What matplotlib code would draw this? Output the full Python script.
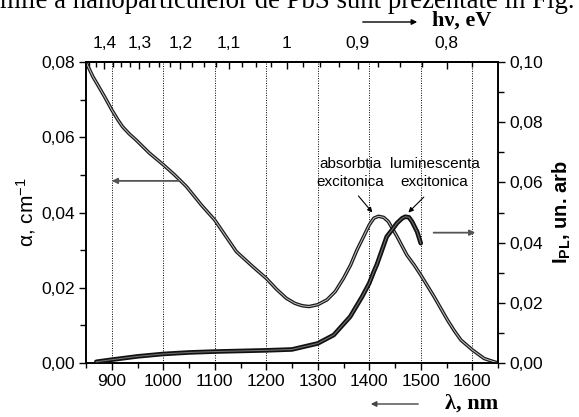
import matplotlib

matplotlib.use("Agg")
import matplotlib.pyplot as plt
import numpy as np
from matplotlib.patches import FancyArrowPatch
from matplotlib.ticker import FixedLocator, FuncFormatter, MultipleLocator

plt.rcParams["font.family"] = ["Liberation Sans", "DejaVu Sans"]
plt.rcParams["mathtext.fontset"] = "custom"
plt.rcParams["mathtext.rm"] = "Liberation Sans"
plt.rcParams["mathtext.it"] = "Liberation Sans:italic"
plt.rcParams["mathtext.bf"] = "Liberation Sans:bold"

# absorption (left axis)
abs_wl = [850, 863, 886, 900, 912, 921, 934, 947, 973, 1000, 1022, 1045, 1074,
          1100, 1122, 1142, 1174, 1200, 1220, 1239, 1255, 1263, 1271, 1283,
          1300, 1318, 1334, 1350, 1364, 1376, 1389, 1400, 1409, 1418, 1428,
          1437, 1454, 1473, 1487, 1500, 1513, 1526, 1539, 1552, 1565, 1578,
          1600, 1623, 1636, 1648]
abs_val = [0.0800, 0.0762, 0.0708, 0.0673, 0.0646, 0.0628, 0.0609, 0.0593,
           0.0558, 0.0527, 0.0500, 0.0469, 0.0420, 0.0380, 0.0336, 0.0296,
           0.0256, 0.0225, 0.0196, 0.0172, 0.0159, 0.0155, 0.0152, 0.0150,
           0.0155, 0.0168, 0.0190, 0.0225, 0.0261, 0.0300, 0.0336, 0.0367,
           0.0385, 0.0390, 0.0387, 0.0376, 0.0336, 0.0287, 0.0261, 0.0234,
           0.0205, 0.0176, 0.0145, 0.0114, 0.0086, 0.0061, 0.0035, 0.0012,
           0.0006, 0.0001]

# photoluminescence (right axis)
pl_wl = [870, 900, 950, 1000, 1050, 1100, 1150, 1200, 1250, 1300, 1331, 1363,
         1386, 1400, 1409, 1415, 1434, 1445, 1454, 1464, 1470, 1477, 1483,
         1493, 1500]
pl_val = [0.0004, 0.0011, 0.0022, 0.0030, 0.0035, 0.0038, 0.0040, 0.0042,
          0.0045, 0.0065, 0.0093, 0.0154, 0.0220, 0.0265, 0.0304, 0.0328,
          0.0420, 0.0444, 0.0465, 0.0481, 0.0486, 0.0484, 0.0470, 0.0436,
          0.0398]

ev_major = [1.4, 1.3, 1.2, 1.1, 1.0, 0.9, 0.8]
ev_labels = ["1,4", "1,3", "1,2", "1,1", "1", "0,9", "0,8"]
grid_wl = [900, 1000, 1100, 1200, 1300, 1400, 1500, 1600]

comma = FuncFormatter(lambda v, p: f"{v:.2f}".replace(".", ","))


def to_ev(x):
    x = np.asarray(x, dtype=float)
    with np.errstate(divide="ignore"):
        return 1240.0 / x


fig = plt.figure(figsize=(5.79, 4.17), dpi=100)
ax = fig.add_axes([86 / 579, 1 - 363 / 417, 412 / 579, 301 / 417])
ax2 = ax.twinx()

for x in grid_wl:
    ax.axvline(x, color="black", ls=(0, (1, 1.5)), lw=0.7, zorder=1)

ax.plot(abs_wl, abs_val, color="#1a1a1a", lw=2.5, solid_capstyle="round",
        solid_joinstyle="round", zorder=3)
ax.plot(abs_wl, abs_val, color="#c4c4c4", lw=0.7, zorder=4)
ax2.plot(pl_wl, pl_val, color="#111111", lw=3.3, solid_capstyle="round",
         solid_joinstyle="round", zorder=3)
ax2.plot(pl_wl, pl_val, color="#707070", lw=0.8, zorder=4)

ax.set_xlim(850, 1650)
ax.set_ylim(0, 0.08)
ax2.set_ylim(0, 0.10)
ax.set_xticks(grid_wl)
ax.xaxis.set_minor_locator(MultipleLocator(50))
for a in (ax, ax2):
    a.yaxis.set_major_locator(MultipleLocator(0.02))
    a.yaxis.set_minor_locator(MultipleLocator(0.01))
    a.yaxis.set_major_formatter(comma)
    a.tick_params(axis="y", which="both", direction="out", labelsize=12.5, pad=3)
    a.tick_params(axis="y", which="major", length=5, width=1)
    a.tick_params(axis="y", which="minor", length=4, width=1)
    for s in a.spines.values():
        s.set_linewidth(1.2)

ax.tick_params(axis="x", which="both", direction="out", labelsize=12.5, pad=3,
               top=False)
ax.tick_params(axis="x", which="major", length=5, width=1)
ax.tick_params(axis="x", which="minor", length=3.5, width=1)

sec = ax.secondary_xaxis("top", functions=(to_ev, to_ev))
sec.xaxis.set_major_locator(FixedLocator(ev_major))
sec.xaxis.set_major_formatter(FuncFormatter(
    lambda v, p: dict(zip(ev_major, ev_labels)).get(round(v, 2), "")))
sec.xaxis.set_minor_locator(FixedLocator(np.arange(0.775, 1.46, 0.025)))
sec.tick_params(axis="x", which="both", direction="in", labelsize=12.5, pad=8)
sec.tick_params(axis="x", which="major", length=5, width=1)
sec.tick_params(axis="x", which="minor", length=3.5, width=1)
sec.spines["top"].set_linewidth(1.2)

ax.set_ylabel(r"α, cm$^{-1}$", fontsize=15, labelpad=2)
ax2.set_ylabel(r"I$_{\mathregular{PL}}$, un. arb", fontsize=14.5,
               fontweight="bold", labelpad=6)

# in-plot arrows pointing to the axis each curve belongs to
arrow = dict(arrowstyle="-|>", color="#555555", lw=1.3, mutation_scale=8,
             shrinkA=0, shrinkB=0)
ax.annotate("", xy=(900, 0.0484), xytext=(1030, 0.0484), arrowprops=arrow)
ax2.annotate("", xy=(1606, 0.0433), xytext=(1525, 0.0433), arrowprops=arrow)

# peak labels
ax.text(1364, 0.0504, "absorbtia\nexcitonica", ha="center", va="center",
        fontsize=11, linespacing=1.35)
ax.text(1527, 0.0504, "luminescenta\nexcitonica", ha="center", va="center",
        fontsize=11, linespacing=1.35)
thin = dict(arrowstyle="-|>", color="black", lw=0.8, mutation_scale=7,
            shrinkA=0, shrinkB=0)
ax.annotate("", xy=(1406, 0.0400), xytext=(1379, 0.0444), arrowprops=thin)
ax.annotate("", xy=(1476, 0.0400), xytext=(1506, 0.0441), arrowprops=thin)

# axis titles with arrows, outside the frame
serif = ["Liberation Serif", "DejaVu Serif"]
fig.text(432 / 579, 1 - 21 / 417, "hν, eV", family=serif, fontsize=16,
         fontweight="bold", ha="left", va="center")
fig.add_artist(FancyArrowPatch(
    (360 / 579, 1 - 22 / 417), (420 / 579, 1 - 22 / 417),
    transform=fig.transFigure, arrowstyle="-|>", color="black", lw=1.0,
    mutation_scale=8))
fig.text(498 / 579, 1 - 404 / 417, "λ, nm", family=serif, fontsize=16,
         fontweight="bold", ha="right", va="center")
fig.add_artist(FancyArrowPatch(
    (421 / 579, 1 - 404 / 417), (368 / 579, 1 - 404 / 417),
    transform=fig.transFigure, arrowstyle="-|>", color="#444444", lw=1.0,
    mutation_scale=8))

# the text line of the page above, cut by the crop
fig.text(0.0, 1 - 8 / 417, "mile a nanoparticulelor de PbS sunt prezentate in Fig.",
         family=serif, fontsize=19.3, va="baseline", ha="left")

fig.savefig("out.png", dpi=100)
